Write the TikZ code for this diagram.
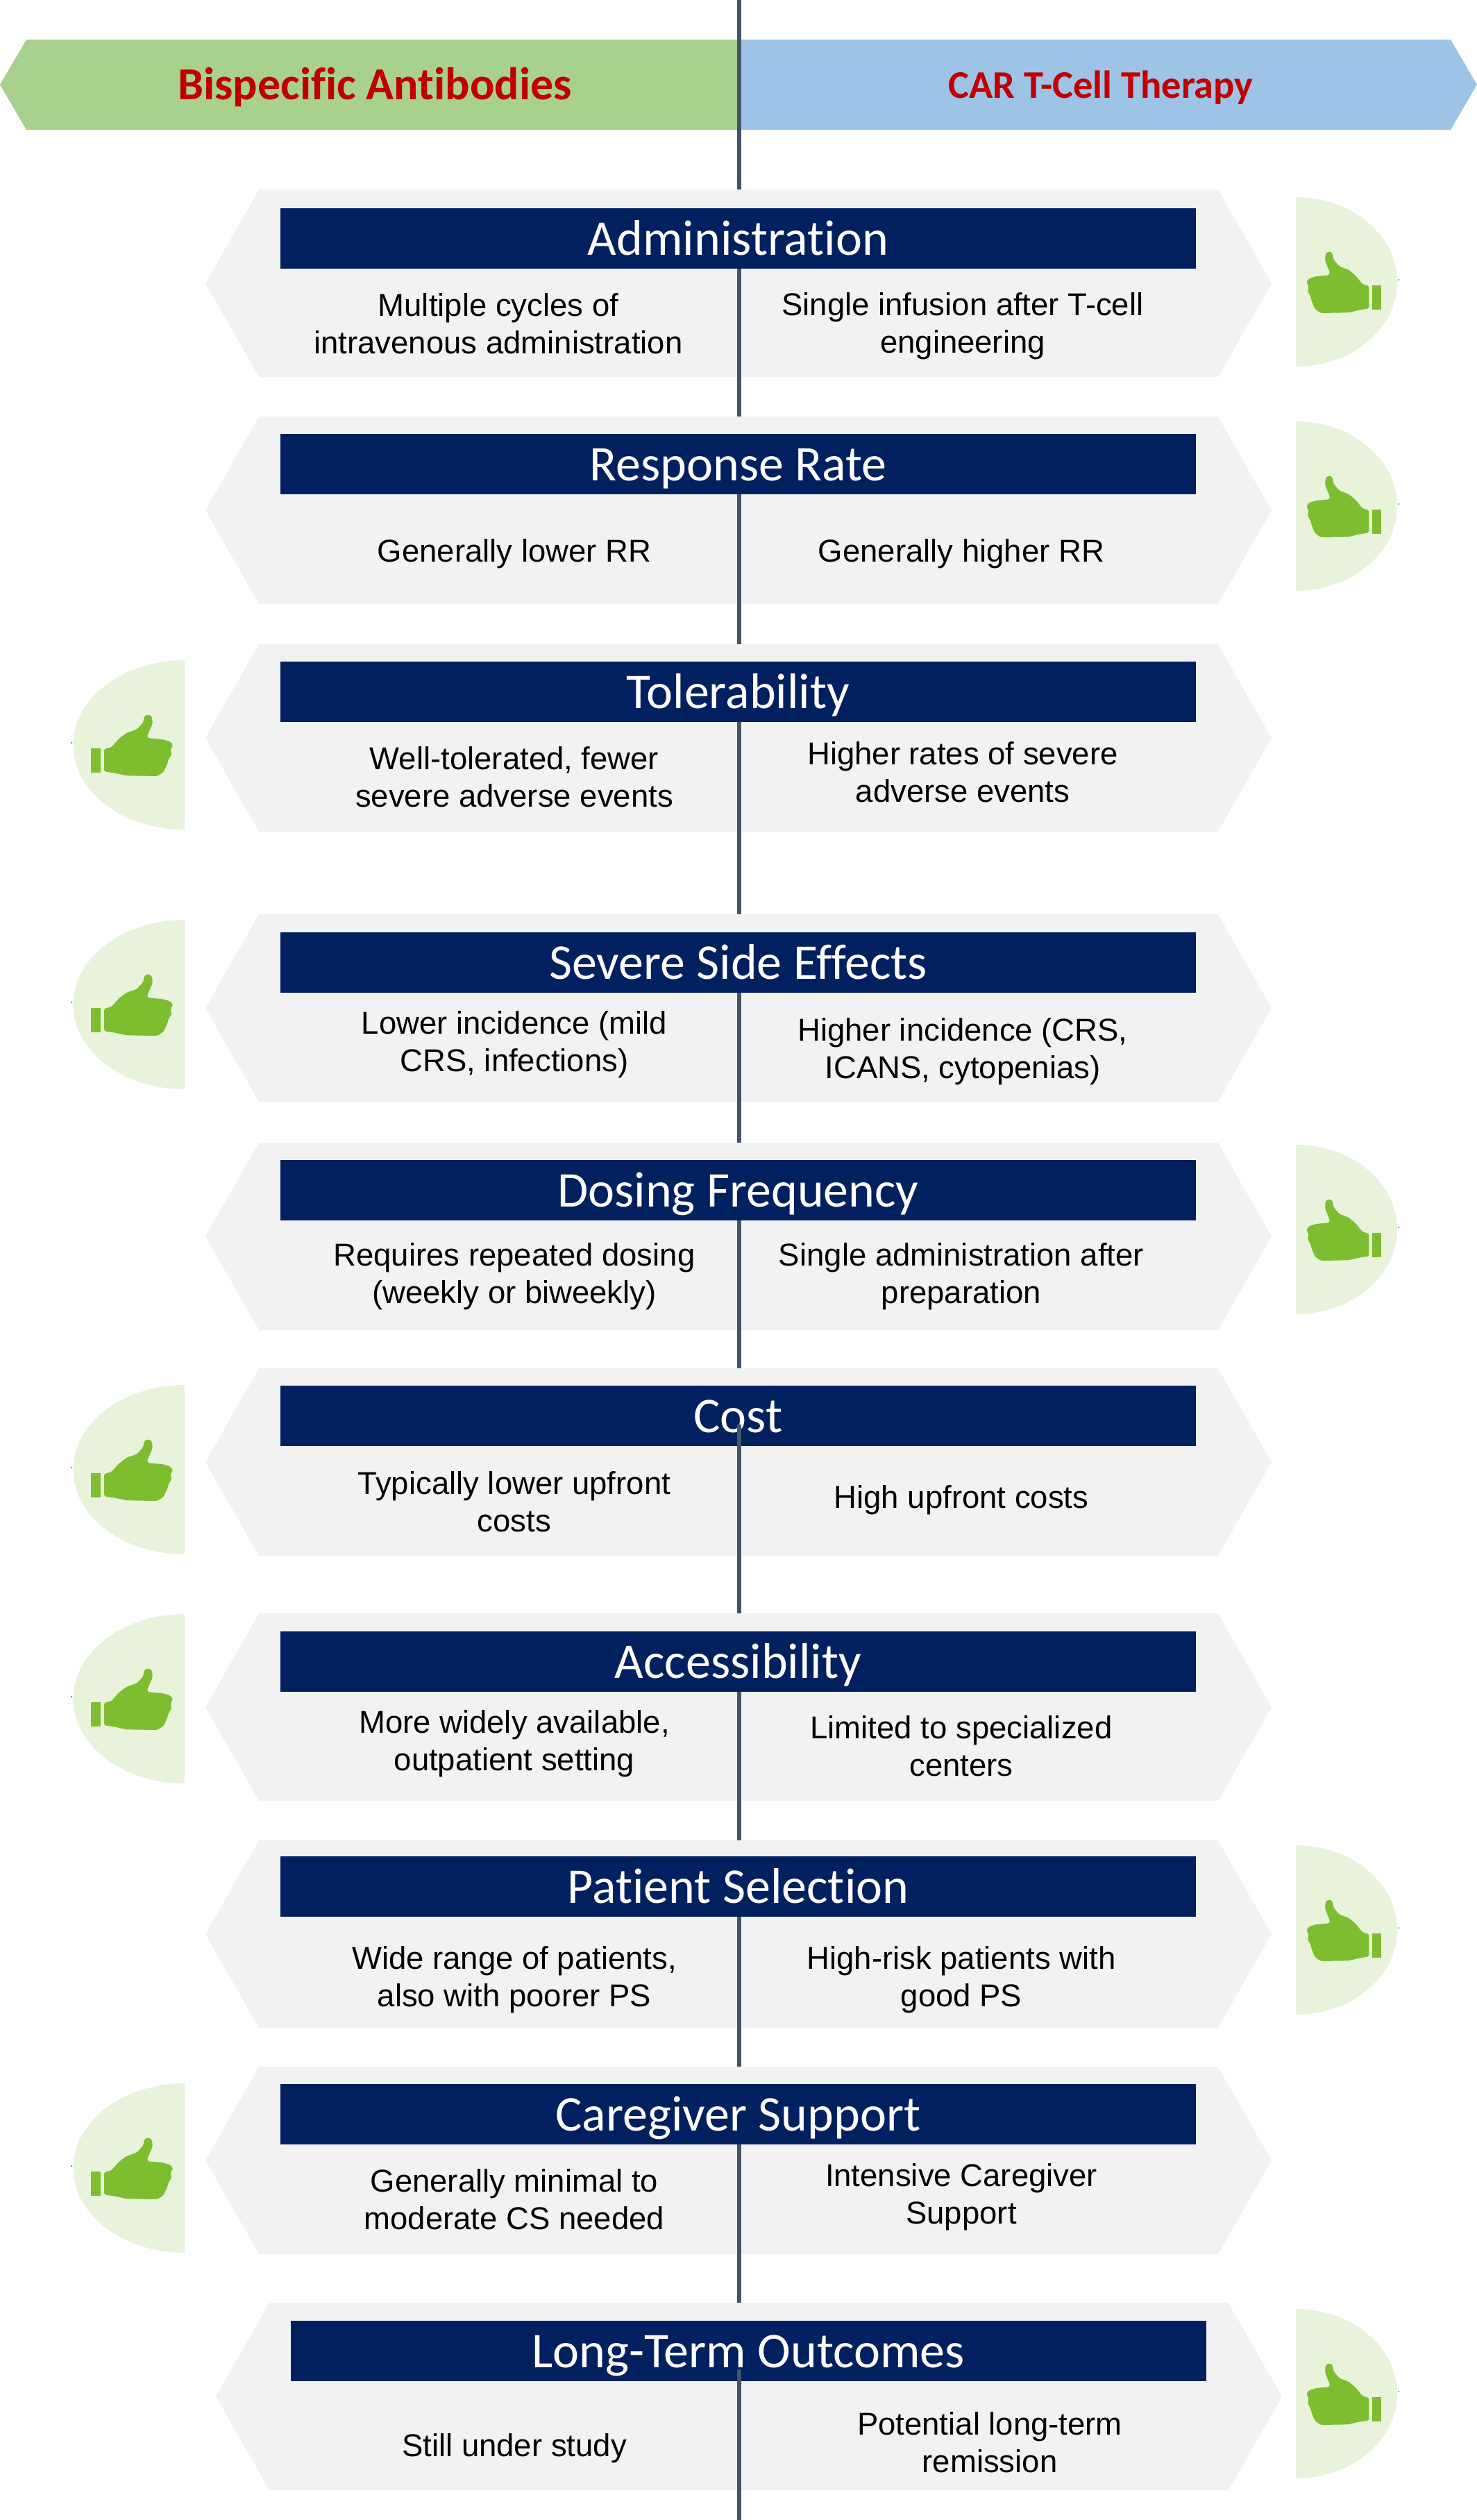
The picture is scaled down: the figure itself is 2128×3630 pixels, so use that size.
\documentclass[tikz,border=0pt]{standalone}
\usepackage{fontspec}
\usetikzlibrary{shapes.symbols}
\setmainfont{Liberation Sans}
\newfontfamily\headfont[Ligatures=NoCommon]{Carlito}
\definecolor{bandgreen}{HTML}{A9D18E}
\definecolor{bandblue}{HTML}{9DC3E6}
\definecolor{bandred}{HTML}{C00000}
\definecolor{panelgrey}{HTML}{F2F2F2}
\definecolor{barnavy}{HTML}{002060}
\definecolor{spinegrey}{HTML}{44546A}
\definecolor{thumbpale}{HTML}{E9F3DC}
\definecolor{thumbgreen}{HTML}{7DBE31}
\tikzset{
  panel/.style={shape=signal,signal to=west and east,signal pointer angle=120.5,
    minimum width=1536pt,minimum height=270pt,fill=panelgrey,inner sep=0pt,outer sep=0pt},
  bar/.style={fill=barnavy,text=white,minimum width=1319pt,minimum height=87pt,
    inner sep=0pt,outer sep=0pt,text height=48pt,text depth=0pt,
    font=\headfont\fontsize{72}{78}\selectfont},
  body/.style={align=center,inner sep=0pt,font=\fontsize{45.5}{54}\selectfont},
  spine/.style={draw=spinegrey,line width=6.5pt},
  thumb/.pic={
    \fill[thumbpale] (0,-122) .. controls (80.6,-122) and (146,-67.4) .. (146,0)
      .. controls (146,67.4) and (80.6,122) .. (0,122) -- cycle;
    \fill[spinegrey] (148,-3) circle (1pt);
    \fill[thumbgreen,rounded corners=2.5pt] (105.3,38.3) -- (105.3,6) -- (96,3.3) -- (86,-9)
      -- (76,-17.3) -- (62.7,-22.3) -- (54.3,-32.3) -- (52.7,-41.7) -- (47.7,-44)
      -- (42.7,-40.7) -- (42,-30.7) -- (49.3,-12.3) -- (47.7,-9.7) -- (29.3,-8)
      -- (19.3,-5) -- (15,0.3) -- (18.7,7) -- (16.7,13.7) -- (21,20.3) -- (22.7,27.7)
      -- (27.7,39.3) -- (36,45) -- (76,44.3) -- (89.3,41) -- cycle;
    \fill[thumbgreen] (110,5) rectangle (123,40);
  }
}
\begin{document}
\begin{tikzpicture}[x=1pt,y=-1pt]
    \useasboundingbox (0,0) rectangle (2128,3630);

    % header
    \fill[bandgreen] (0,122) -- (38,57) -- (1065,57) -- (1065,187) -- (38,187) -- cycle;
    \fill[bandblue] (2128,122) -- (2090,57) -- (1065,57) -- (1065,187) -- (2090,187) -- cycle;
    \node[text=bandred,font=\headfont\bfseries\fontsize{66}{72}\selectfont] (bsabtext) at (540,126) {Bispecific Antibodies};
    \node[text=bandred,font=\headfont\bfseries\fontsize{56.5}{62}\selectfont] (cartext) at (1586,126) {CAR T-Cell Therapy};

    % panels
    \node[panel] (admin)  at (1064,408) {};
    \node[panel] (resp)   at (1064,735) {};
    \node[panel] (toler)  at (1064,1063) {};
    \node[panel] (severe) at (1064,1452) {};
    \node[panel] (dosing) at (1064,1781) {};
    \node[panel] (cost)   at (1064,2106) {};
    \node[panel] (access) at (1064,2459) {};
    \node[panel] (select) at (1064,2786) {};
    \node[panel] (care)   at (1064,3112) {};
    \node[panel] (longt)  at (1079,3452) {};

    % titles
    \node[bar] (adminbar)  at (1063.5,343) {Administration};
    \node[bar] (respbar)   at (1063.5,668) {Response Rate};
    \node[bar] (tolerbar)  at (1063.5,996) {Tolerability};
    \node[bar] (severebar) at (1063.5,1386) {Severe Side Effects};
    \node[bar] (dosingbar) at (1063.5,1714) {Dosing Frequency};
    \node[bar] (costbar)   at (1063.5,2039) {Cost};
    \node[bar] (accessbar) at (1063.5,2393) {Accessibility};
    \node[bar] (selectbar) at (1063.5,2717) {Patient Selection};
    \node[bar] (carebar)   at (1063.5,3045) {Caregiver Support};
    \node[bar] (longtbar)  at (1078,3386) {Long-Term Outcomes};

    % line down the middle
    \coordinate (spinetop) at (1065,0);
    \coordinate (spinebottom) at (1065,3630);
    \coordinate (costtick) at (1065,2052);
    \coordinate (longttick) at (1065,3413);
    \draw[spine] (spinetop) -- (spinetop |- admin.north);
    \draw[spine] (spinetop |- adminbar.south) -- (spinetop |- resp.north);
    \draw[spine] (spinetop |- respbar.south) -- (spinetop |- toler.north);
    \draw[spine] (spinetop |- tolerbar.south) -- (spinetop |- severe.north);
    \draw[spine] (spinetop |- severebar.south) -- (spinetop |- dosing.north);
    \draw[spine] (spinetop |- dosingbar.south) -- (spinetop |- cost.north);
    \draw[spine] (costtick) -- (spinetop |- access.north);
    \draw[spine] (spinetop |- accessbar.south) -- (spinetop |- select.north);
    \draw[spine] (spinetop |- selectbar.south) -- (spinetop |- care.north);
    \draw[spine] (spinetop |- carebar.south) -- (spinetop |- longt.north);
    \draw[spine] (longttick) -- (spinebottom);

    % left column
    \node[body] (adminl)  at (718,466) {Multiple cycles of\\intravenous administration};
    \node[body] (respl)   at (741,798) {Generally lower RR};
    \node[body] (tolerl)  at (741,1119) {Well-tolerated, fewer\\severe adverse events};
    \node[body] (severel) at (741,1505) {Lower incidence (mild\\CRS, infections)};
    \node[body] (dosingl) at (741,1839) {Requires repeated dosing\\(weekly or biweekly)};
    \node[body] (costl)   at (741,2163) {Typically lower upfront\\costs};
    \node[body] (accessl) at (741,2512) {More widely available,\\outpatient setting};
    \node[body] (selectl) at (741,2852) {Wide range of patients,\\also with poorer PS};
    \node[body] (carel)   at (741,3168) {Generally minimal to\\moderate CS needed};
    \node[body] (longtl)  at (741,3527) {Still under study};

    % right column
    \node[body] (adminr)  at (1387,470) {Single infusion after T-cell\\engineering};
    \node[body] (respr)   at (1385,798) {Generally higher RR};
    \node[body] (tolerr)  at (1387,1112) {Higher rates of severe\\adverse events};
    \node[body] (severer) at (1387,1515) {Higher incidence (CRS,\\ICANS, cytopenias)};
    \node[body] (dosingr) at (1385,1839) {Single administration after\\preparation};
    \node[body] (costr)   at (1385,2161) {High upfront costs};
    \node[body] (accessr) at (1385,2515) {Limited to specialized\\centers};
    \node[body] (selectr) at (1385,2852) {High-risk patients with\\good PS};
    \node[body] (carer)   at (1385,3165) {Intensive Caregiver\\Support};
    \node[body] (longtr)  at (1426,3518) {Potential long-term\\remission};

    % thumbs
    \pic at (1867,406) {thumb};
    \pic at (1867,729) {thumb};
    \pic at (1867,1771) {thumb};
    \pic at (1867,2780) {thumb};
    \pic at (1867,3448) {thumb};
    \pic[xscale=-1.1] at (266,1073) {thumb};
    \pic[xscale=-1.1] at (266,1447) {thumb};
    \pic[xscale=-1.1] at (266,2117) {thumb};
    \pic[xscale=-1.1] at (266,2447) {thumb};
    \pic[xscale=-1.1] at (266,3123) {thumb};
\end{tikzpicture}
\end{document}
